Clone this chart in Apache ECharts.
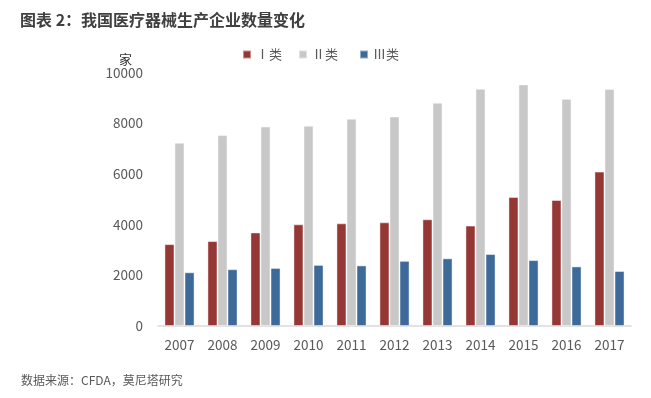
<!DOCTYPE html>
<html>
<head>
<meta charset="utf-8">
<script src="https://cdn.jsdelivr.net/npm/echarts@6/dist/echarts.min.js"></script>
<style>
  html, body { margin: 0; padding: 0; background: #fff; }
  #chart { width: 651px; height: 398px; }
</style>
</head>
<body>
<div id="chart"></div>
<script>
// 年份
const years = ["2007", "2008", "2009", "2010", "2011", "2012", "2013", "2014", "2015", "2016", "2017"];
// 各类生产企业数量（家）
const classOne = [3230, 3350, 3690, 4010, 4050, 4090, 4210, 3960, 5090, 4970, 6090];
const classTwo = [7230, 7530, 7870, 7900, 8180, 8260, 8810, 9360, 9530, 8960, 9350];
const classThree = [2120, 2240, 2290, 2410, 2390, 2570, 2670, 2840, 2600, 2350, 2170];
const seriesNames = ["Ⅰ类", "Ⅱ类", "Ⅲ类"];
const yTicks = [0, 2000, 4000, 6000, 8000, 10000];

const colors = ["#953735", "#c8c8c8", "#3d6a99"];
const textColor = "#595959";
const fontFamily = "'Noto Sans CJK SC', 'Noto Sans', sans-serif";

const chart = echarts.init(document.getElementById("chart"));

function legendAt(name, left) {
  return {
    data: [name],
    left: left,
    top: 43,
    itemWidth: 8,
    itemHeight: 8,
    itemGap: 0,
    icon: "rect",
    selectedMode: false,
    textStyle: { color: textColor, fontSize: 13, fontFamily: fontFamily },
  };
}

function barSeries(name, data, color) {
  return {
    name: name,
    type: "bar",
    data: data,
    barGap: "0%",
    barCategoryGap: "30%",
    itemStyle: { color: color, borderColor: "rgba(255,255,255,0.45)", borderWidth: 1 },
  };
}

chart.setOption({
  backgroundColor: "#fff",
  animation: false,
  title: [
    {
      text: "图表 2：我国医疗器械生产企业数量变化",
      left: 15,
      top: 7,
      textStyle: { color: "#404040", fontSize: 16, fontWeight: "bold", fontFamily: fontFamily },
    },
    {
      text: "数据来源：CFDA，莫尼塔研究",
      left: 16,
      top: 369,
      textStyle: { color: textColor, fontSize: 12, fontWeight: "normal", fontFamily: fontFamily },
    },
    {
      text: "家",
      left: 114,
      top: 48,
      textStyle: { color: "#333", fontSize: 13, fontWeight: "normal", fontFamily: fontFamily },
    },
  ],
  legend: [
    legendAt(seriesNames[0], 237),
    legendAt(seriesNames[1], 293),
    legendAt(seriesNames[2], 354),
  ],
  grid: { left: 158, right: 20, top: 72.5, bottom: 72 },
  xAxis: {
    type: "category",
    data: years,
    axisLine: { lineStyle: { color: "#d9d9d9", width: 1.5 } },
    axisTick: { show: false },
    axisLabel: { color: textColor, fontSize: 13.5, fontFamily: fontFamily, margin: 12 },
  },
  yAxis: {
    type: "value",
    min: yTicks[0],
    max: yTicks[yTicks.length - 1],
    interval: 2000,
    axisLine: { show: false },
    axisTick: { show: false },
    splitLine: { show: false },
    axisLabel: {
      color: textColor,
      fontSize: 13.5,
      fontFamily: fontFamily,
      margin: 15,
      formatter: (value) => String(value),
    },
  },
  series: [
    barSeries(seriesNames[0], classOne, colors[0]),
    barSeries(seriesNames[1], classTwo, colors[1]),
    barSeries(seriesNames[2], classThree, colors[2]),
  ],
});
</script>
</body>
</html>
